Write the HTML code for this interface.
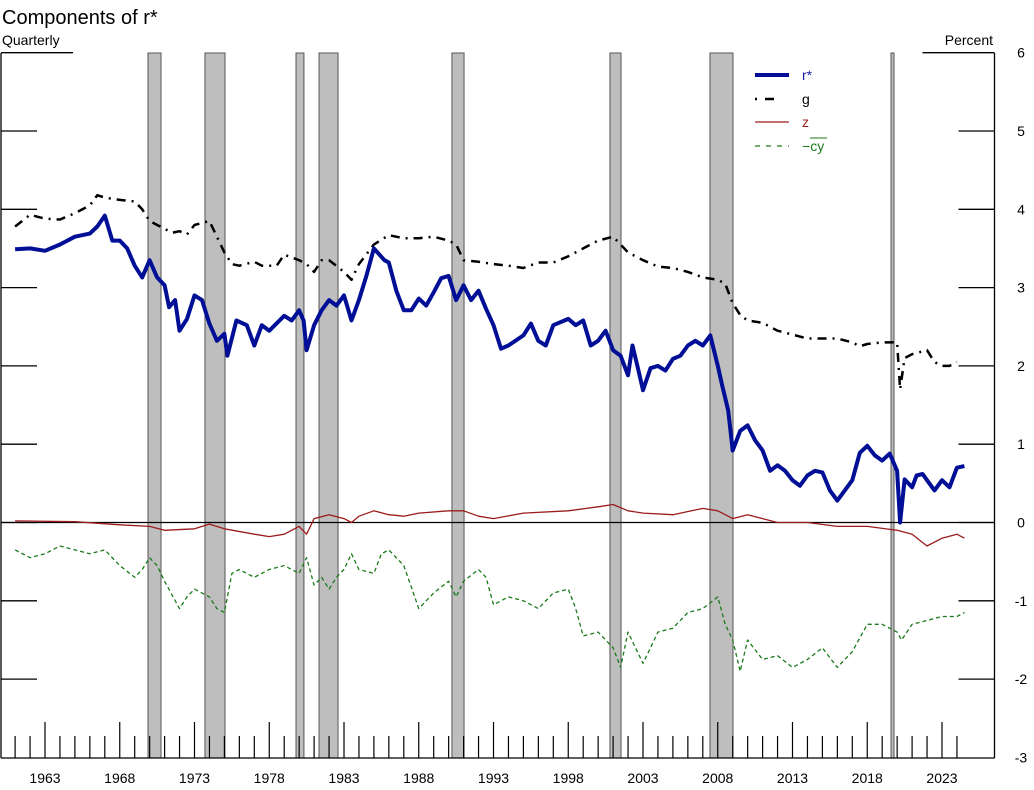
<!DOCTYPE html>
<html><head><meta charset="utf-8"><style>
body{margin:0;background:#fff;}
svg{display:block;font-family:"Liberation Sans",Arial,sans-serif;}
</style></head><body>
<svg id="chart" width="1034" height="790" viewBox="0 0 1034 790">
<text x="2" y="24" font-size="20">Components of r*</text>
<text x="2" y="45" font-size="14">Quarterly</text>
<text x="993" y="45" font-size="14" text-anchor="end">Percent</text>
<g id="rec"></g>
<g id="axes"></g>
<g id="series"></g>
<g id="legend"></g>
</svg>
<script>
const recessions=[[1969.89,1970.76],[1973.7,1975.04],[1979.79,1980.32],[1981.33,1982.6],[1990.22,1991.03],[2000.79,2001.53],[2007.48,2009.02],[2019.59,2019.79]];
const yTicks=[6,5,4,3,2,1,0,-1,-2,-3];
const rstarYears=[1961,1962,1963,1964,1965,1966,1966.5,1967,1967.5,1968,1968.5,1969,1969.5,1970,1970.5,1971,1971.3,1971.7,1972,1972.5,1973,1973.5,1974,1974.5,1975,1975.2,1975.8,1976.5,1977,1977.5,1978,1979,1979.5,1980,1980.3,1980.5,1981,1981.5,1982,1982.5,1983,1983.5,1984,1984.5,1985,1985.7,1986,1986.5,1987,1987.5,1988,1988.5,1989,1989.5,1990,1990.5,1991,1991.5,1992,1992.5,1993,1993.5,1994,1995,1995.5,1996,1996.5,1997,1998,1998.5,1999,1999.5,2000,2000.5,2001,2001.5,2002,2002.3,2002.7,2003,2003.5,2004,2004.5,2005,2005.5,2006,2006.5,2007,2007.5,2008,2008.3,2008.7,2009,2009.5,2010,2010.5,2011,2011.5,2012,2012.5,2013,2013.5,2014,2014.5,2015,2015.5,2016,2016.5,2017,2017.5,2018,2018.5,2019,2019.5,2020,2020.2,2020.5,2021,2021.3,2021.7,2022,2022.5,2023,2023.5,2024,2024.5];
const rstarValues=[3.49,3.5,3.47,3.55,3.65,3.69,3.78,3.92,3.6,3.6,3.5,3.28,3.13,3.35,3.13,3.03,2.75,2.84,2.45,2.6,2.9,2.84,2.54,2.32,2.41,2.13,2.58,2.52,2.26,2.52,2.45,2.64,2.58,2.71,2.58,2.2,2.52,2.71,2.84,2.77,2.9,2.58,2.84,3.15,3.5,3.35,3.32,2.96,2.71,2.71,2.86,2.77,2.94,3.12,3.15,2.84,3.03,2.84,2.96,2.73,2.52,2.22,2.26,2.39,2.54,2.32,2.26,2.52,2.6,2.52,2.58,2.26,2.32,2.45,2.2,2.13,1.88,2.26,1.94,1.69,1.97,2.0,1.94,2.09,2.13,2.26,2.32,2.26,2.39,2.0,1.75,1.43,0.92,1.17,1.24,1.05,0.92,0.66,0.73,0.66,0.54,0.47,0.6,0.66,0.64,0.41,0.28,0.41,0.54,0.89,0.98,0.86,0.79,0.88,0.66,0.0,0.55,0.45,0.6,0.62,0.54,0.41,0.54,0.45,0.7,0.72];
const gYears=[1961,1962,1963,1964,1965,1966,1966.5,1967,1968,1969,1969.5,1970,1970.7,1971.5,1972,1972.5,1973,1974,1974.5,1975,1975.5,1976,1977,1977.5,1978,1978.5,1979,1980,1980.5,1981,1981.5,1982,1983,1983.5,1984,1985,1986,1987,1988,1989,1990,1990.5,1991,1992,1993,1994,1995,1996,1997,1998,1999,2000,2001,2001.5,2002,2003,2004,2005,2006,2007,2008,2008.5,2009,2009.5,2010,2011,2012,2013,2014,2015,2016,2017,2017.5,2018,2019,2020,2020.2,2020.5,2021,2022,2022.5,2023,2023.5,2024];
const gValues=[3.78,3.93,3.88,3.87,3.95,4.05,4.18,4.15,4.12,4.1,4.0,3.85,3.78,3.7,3.72,3.68,3.8,3.85,3.65,3.45,3.3,3.28,3.33,3.28,3.28,3.28,3.42,3.35,3.3,3.2,3.35,3.35,3.2,3.1,3.3,3.55,3.67,3.63,3.63,3.65,3.6,3.55,3.35,3.33,3.3,3.28,3.25,3.32,3.32,3.4,3.5,3.6,3.65,3.55,3.45,3.35,3.27,3.25,3.2,3.13,3.1,3.05,2.8,2.65,2.58,2.55,2.45,2.4,2.35,2.35,2.35,2.3,2.25,2.28,2.3,2.3,1.7,2.1,2.15,2.2,2.05,2.0,2.0,2.05];
const zYears=[1961,1965,1968,1970,1971,1973,1974,1975,1977,1978,1979,1980,1980.5,1981,1982,1983,1983.5,1984,1985,1986,1987,1988,1990,1991,1992,1993,1995,1998,2000,2001,2002,2003,2005,2007,2008,2009,2010,2011,2012,2014,2016,2018,2020,2021,2022,2023,2024,2024.5];
const zValues=[0.02,0.01,-0.03,-0.05,-0.1,-0.08,-0.02,-0.08,-0.15,-0.18,-0.15,-0.05,-0.15,0.05,0.1,0.05,0.0,0.08,0.15,0.1,0.08,0.12,0.15,0.15,0.08,0.05,0.12,0.15,0.2,0.23,0.15,0.12,0.1,0.18,0.15,0.05,0.1,0.05,0.0,0.0,-0.05,-0.05,-0.1,-0.15,-0.3,-0.2,-0.15,-0.2];
const cyYears=[1961,1962,1963,1964,1965,1966,1967,1968,1969,1969.5,1970,1970.5,1971,1972,1972.5,1973,1974,1974.5,1975,1975.5,1976,1977,1978,1979,1980,1980.5,1981,1981.5,1982,1982.5,1983,1983.5,1984,1985,1985.5,1986,1987,1988,1989,1990,1990.5,1991,1992,1992.5,1993,1994,1995,1996,1997,1998,1998.5,1999,2000,2001,2001.5,2002,2003,2004,2005,2006,2007,2008,2008.5,2009,2009.5,2010,2011,2012,2013,2014,2015,2016,2017,2018,2019,2020,2020.3,2021,2022,2023,2024,2024.5];
const cyValues=[-0.35,-0.45,-0.4,-0.3,-0.35,-0.4,-0.35,-0.55,-0.7,-0.6,-0.45,-0.55,-0.75,-1.1,-0.95,-0.85,-0.95,-1.1,-1.15,-0.65,-0.6,-0.7,-0.6,-0.55,-0.65,-0.45,-0.8,-0.7,-0.85,-0.7,-0.6,-0.4,-0.6,-0.65,-0.4,-0.35,-0.55,-1.1,-0.9,-0.75,-0.95,-0.75,-0.6,-0.7,-1.05,-0.95,-1.0,-1.1,-0.9,-0.85,-1.1,-1.45,-1.4,-1.6,-1.85,-1.4,-1.8,-1.4,-1.35,-1.15,-1.1,-0.95,-1.3,-1.5,-1.9,-1.5,-1.75,-1.7,-1.85,-1.75,-1.6,-1.85,-1.65,-1.3,-1.3,-1.4,-1.5,-1.3,-1.25,-1.2,-1.2,-1.15];

const NS='http://www.w3.org/2000/svg';
const X=yr=>45+(yr-1963)*14.95;
const Y=v=>522.5-v*78.3;
function mk(tag,attrs,parent){const e=document.createElementNS(NS,tag);for(const k in attrs)e.setAttribute(k,attrs[k]);parent.appendChild(e);return e;}
const rec=document.getElementById('rec'),axes=document.getElementById('axes'),ser=document.getElementById('series'),leg=document.getElementById('legend');
recessions.forEach(r=>{
 const b=mk('rect',{x:X(r[0]),y:53,width:Math.max(X(r[1])-X(r[0]),2),height:705,fill:'#bebebe',stroke:'#555','stroke-width':1},rec);
 
 
});
mk('line',{x1:1,y1:53,x2:1,y2:758,stroke:'#000','stroke-width':1.3},axes);
mk('line',{x1:994.5,y1:53,x2:994.5,y2:758,stroke:'#000','stroke-width':1.3},axes);
mk('line',{x1:1,y1:758,x2:994.5,y2:758,stroke:'#000','stroke-width':1.3},axes);
mk('line',{x1:1,y1:Y(0),x2:994.5,y2:Y(0),stroke:'#000','stroke-width':1.2},axes);
yTicks.forEach(v=>{
 const len=v===6?72:36;
 if(v!==-3){
 mk('line',{x1:1,y1:Y(v),x2:1+len,y2:Y(v),stroke:'#000','stroke-width':1.3},axes);
 mk('line',{x1:994.5-len,y1:Y(v),x2:994.5,y2:Y(v),stroke:'#000','stroke-width':1.3},axes);}
 const t=mk('text',{x:1021,y:Y(v)+5,'font-size':14,'text-anchor':'middle'},axes);
 t.textContent=v;
 
 
});
for(let yr=1961;yr<=2024;yr++){
 const major=(yr-1963)%5===0;
 mk('line',{x1:X(yr),y1:758,x2:X(yr),y2:major?722:736,stroke:'#000','stroke-width':1.2},axes);
 if(major){const t=mk('text',{x:X(yr),y:783,'font-size':14,'text-anchor':'middle'},axes);t.textContent=yr;
 
 }
}
function line(xs,vs,attrs,name){
 const d=xs.map((x,i)=>(i?'L':'M')+X(x).toFixed(1)+','+Y(vs[i]).toFixed(1)).join('');
 const p=mk('path',Object.assign({d:d,fill:'none','stroke-linejoin':'round'},attrs),ser);
 
 
}
line(cyYears,cyValues,{stroke:'#1a7a1a','stroke-width':1.3,'stroke-dasharray':'4,3'},'cy-line');
line(zYears,zValues,{stroke:'#9b1c1c','stroke-width':1.3},'z-line');
line(gYears,gValues,{stroke:'#000','stroke-width':2.5,'stroke-dasharray':'9,6,2,6'},'g-line');
line(rstarYears,rstarValues,{stroke:'#000f96','stroke-width':4},'r-star-line');
const L=[['r*',{stroke:'#000f96','stroke-width':4},'#1a1aa0',75,'legend-r-star'],['g',{stroke:'#000','stroke-width':2.5,'stroke-dasharray':'2,8,9,20'},'#000',99,'legend-g'],['z',{stroke:'#9b1c1c','stroke-width':1.3},'#9b1c1c',122,'legend-z'],['−cy',{stroke:'#1a7a1a','stroke-width':1.3,'stroke-dasharray':'5,6'},'#1a7a1a',146,'legend-cy']];
L.forEach(l=>{
 const g=mk('g',{},leg);
 
 
 mk('line',Object.assign({x1:755,y1:l[3],x2:789,y2:l[3]},l[1]),g);
 const t=mk('text',{x:802,y:l[3]+5,'font-size':14,fill:l[2]},g);
 if(l[0]==='−cy'){t.textContent='−';const s=mk('tspan',{},t);s.textContent='cy';
 mk('line',{x1:810,y1:l[3]-8,x2:827,y2:l[3]-8,stroke:l[2],'stroke-width':1},g);}
 else t.textContent=l[0];
});
</script>
</body></html>
